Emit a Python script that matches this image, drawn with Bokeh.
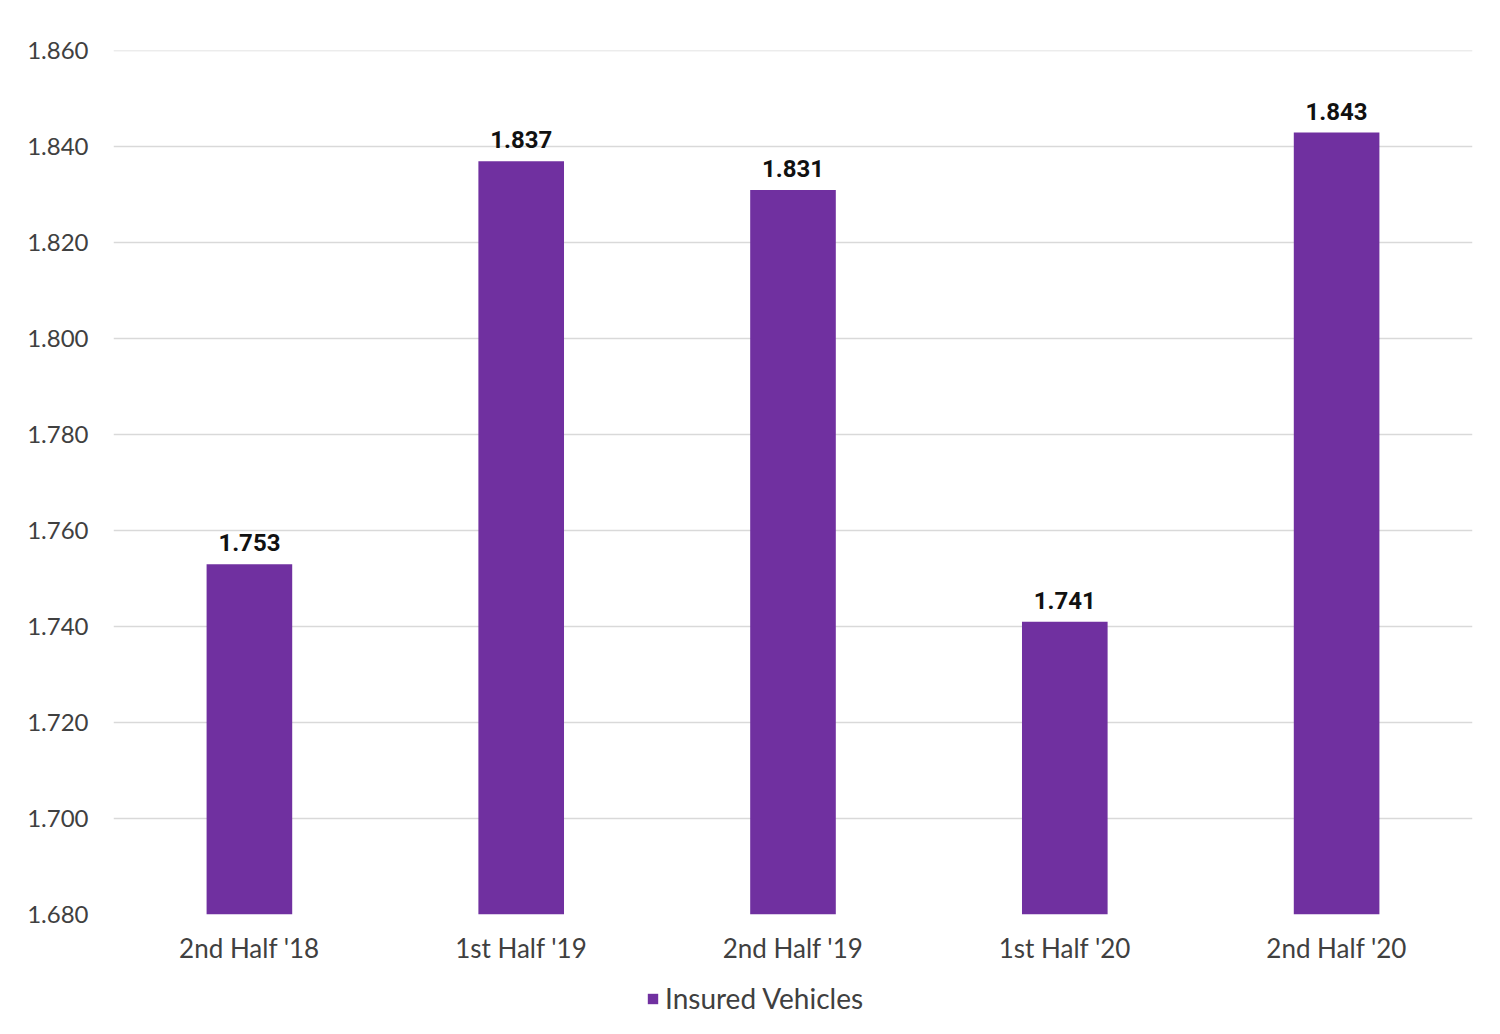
from bokeh.plotting import figure
from bokeh.layouts import column
from bokeh.models import ColumnDataSource, Range1d, SingleIntervalTicker, NumeralTickFormatter, Legend, LegendItem, LabelSet
from bokeh.embed import file_html
from bokeh.resources import INLINE
from bokeh.core.properties import value

categories = ["2nd Half '18", "1st Half '19", "2nd Half '19", "1st Half '20", "2nd Half '20"]
insured_vehicles = [1.753, 1.837, 1.831, 1.741, 1.843]
labels = ["1.753", "1.837", "1.831", "1.741", "1.843"]
series_name = "Insured Vehicles"
bar_color = "#7030A0"

src = ColumnDataSource(dict(cat=categories, val=insured_vehicles, lab=labels))

p = figure(x_range=categories, y_range=Range1d(1.68, 1.8601), width=1500, height=975,
           output_backend="svg", toolbar_location=None,
           min_border_left=113, min_border_right=28, min_border_top=50, min_border_bottom=61)
p.outline_line_color = None
p.background_fill_color = "white"
p.border_fill_color = "white"

r = p.vbar(x="cat", top="val", bottom=1.68, width=0.315, source=src,
           fill_color=bar_color, line_color=None)

p.add_layout(LabelSet(x="cat", y="val", text="lab", source=src, text_align="center",
                      text_baseline="bottom", y_offset=13, text_font=value("Roboto"),
                      text_font_style="bold", text_font_size="24px", text_color="#111111"))

p.yaxis.ticker = SingleIntervalTicker(interval=0.02)
p.yaxis.formatter = NumeralTickFormatter(format="0.000")
for ax in (p.xaxis, p.yaxis):
    ax.axis_line_color = None
    ax.major_tick_line_color = None
    ax.minor_tick_line_color = None
    ax.major_label_text_font = "Lato"
    ax.major_label_text_color = "#404040"
p.yaxis.major_label_standoff = 19
p.yaxis.major_label_text_font_size = "24px"
p.xaxis.major_label_text_font_size = "26px"
p.xaxis.major_label_standoff = 11
p.xgrid.grid_line_color = None
p.ygrid.grid_line_color = "#d9d9d9"
p.ygrid.grid_line_width = 1.5

# legend strip below the chart (swatch renderer kept off-range)
lg = figure(width=1500, height=46, x_range=Range1d(0, 1), y_range=Range1d(0, 1),
            output_backend="svg", toolbar_location=None,
            min_border_left=0, min_border_right=0, min_border_top=0, min_border_bottom=0)
lg.axis.visible = False
lg.grid.visible = False
lg.outline_line_color = None
lr = lg.vbar(x=[-5], top=[-5], bottom=[-6], width=1, fill_color=bar_color, line_color=None)
legend = Legend(items=[LegendItem(label=series_name, renderers=[lr])],
                location=(533, 6), orientation="horizontal", margin=0, padding=2,
                label_text_font="Lato", label_text_font_size="28px", label_text_color="#404040",
                glyph_width=13, glyph_height=13, label_standoff=6,
                background_fill_alpha=0, border_line_color=None)
lg.add_layout(legend, "center")

open("out.html", "w").write(file_html(column(p, lg, spacing=0), INLINE))
